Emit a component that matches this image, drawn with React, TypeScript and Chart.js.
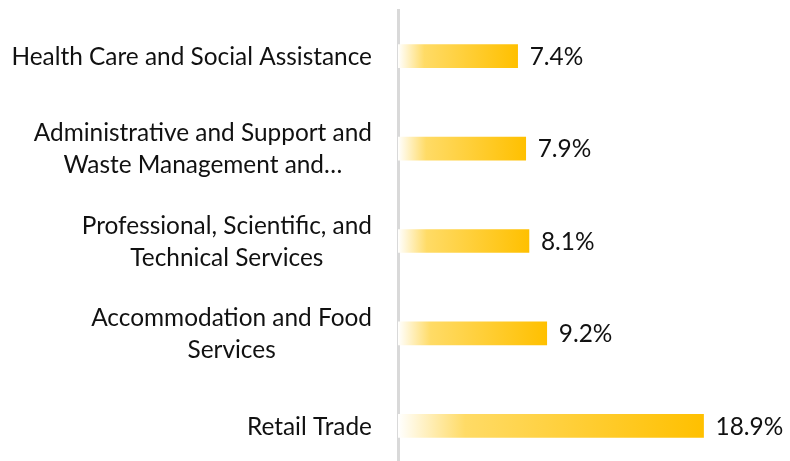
import React, { useEffect, useRef } from "react";
import { Chart, registerables } from "chart.js";

Chart.register(...registerables);

const categories: string[][] = [
  ["Health Care and Social Assistance"],
  ["Administrative and Support and", "Waste Management and…"],
  ["Professional, Scientific, and", "Technical Services"],
  ["Accommodation and Food", "Services"],
  ["Retail Trade"],
];
const values: number[] = [7.4, 7.9, 8.1, 9.2, 18.9];
const valueLabels: string[] = ["7.4%", "7.9%", "8.1%", "9.2%", "18.9%"];

const FONT = "Lato, 'Open Sans', sans-serif";
const FONT_SIZE = 24.4;
const LINE_H = 32;

const labelPlugin = {
  id: "labels",
  afterDatasetsDraw(chart: any) {
    const meta = chart.getDatasetMeta(0);
    const ctx = chart.ctx;
    ctx.save();
    ctx.font = `${FONT_SIZE}px ${FONT}`;
    ctx.fillStyle = "#111111";
    ctx.textBaseline = "middle";
    ctx.textAlign = "left";
    meta.data.forEach((bar: any, i: number) => {
      ctx.fillText(valueLabels[i], bar.x + 12, bar.y + 1);
    });
    // category labels: block right-aligned, lines centered within block
    const ys = chart.scales.y;
    const rightEdge = ys.right - 26;
    ctx.textAlign = "center";
    categories.forEach((lines, i) => {
      const cy = ys.getPixelForTick(i);
      const maxW = Math.max(...lines.map((l) => ctx.measureText(l).width));
      const cx = rightEdge - maxW / 2;
      const startY = cy - ((lines.length - 1) * LINE_H) / 2;
      lines.forEach((l, j) => {
        ctx.fillText(l, cx, startY + j * LINE_H + 1);
      });
    });
    ctx.restore();
  },
};

export default function App() {
  const ref = useRef<HTMLCanvasElement | null>(null);
  useEffect(() => {
    if (!ref.current) return;
    const chart = new Chart(ref.current, {
      type: "bar",
      data: {
        labels: categories,
        datasets: [
          {
            data: values,
            barThickness: 23,
            borderWidth: 0,
            backgroundColor: (c: any) => {
              const ch = c.chart;
              if (!ch.chartArea || typeof c.raw !== "number") return "#FFC000";
              const xs = ch.scales.x;
              const x0 = xs.getPixelForValue(0);
              const x1 = xs.getPixelForValue(c.raw);
              const g = ch.ctx.createLinearGradient(x0, 0, x1, 0);
              g.addColorStop(0, "#FFFFFF");
              g.addColorStop(0.22, "#FFDB66");
              g.addColorStop(1, "#FFC000");
              return g;
            },
          },
        ],
      },
      options: {
        indexAxis: "y",
        responsive: false,
        animation: false,
        layout: { padding: { top: 10, right: 4, bottom: 0, left: 0 } },
        plugins: { legend: { display: false }, tooltip: { enabled: false } },
        scales: {
          x: {
            min: 0,
            max: 24,
            display: false,
          },
          y: {
            z: 1,
            grid: { display: false, drawTicks: false },
            border: { display: true, color: "#D9D9D9", width: 3 },
            ticks: { display: false },
            afterFit: (s: any) => {
              s.width = 398;
              s.paddingTop = 0;
              s.paddingBottom = 0;
            },
          },
        },
      },
      plugins: [labelPlugin],
    } as any);
    return () => chart.destroy();
  }, []);
  return (
    <div
      style={{
        position: "fixed",
        left: 0,
        top: 0,
        width: 790,
        height: 461,
        overflow: "hidden",
        background: "#fff",
      }}
    >
      <canvas ref={ref} width={790} height={472} style={{ display: "block" }} />
    </div>
  );
}
